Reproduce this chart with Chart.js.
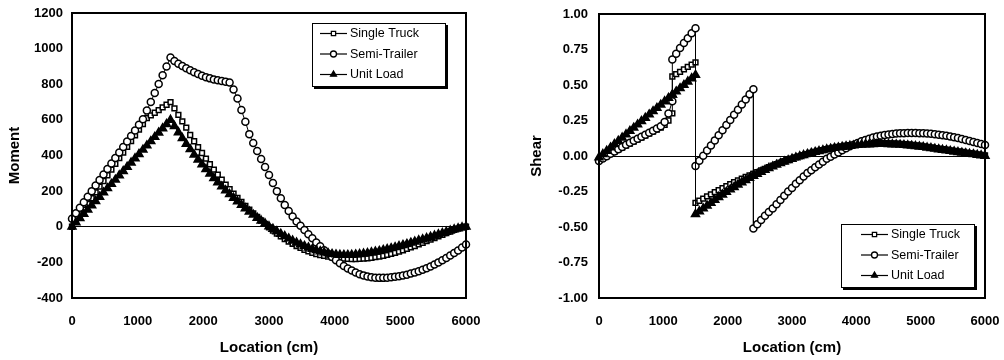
<!DOCTYPE html>
<html>
<head>
<meta charset="utf-8">
<script src="https://cdn.jsdelivr.net/npm/chart.js@4.4.1/dist/chart.umd.min.js"></script>
<style>
  html, body { margin: 0; padding: 0; background: #fff; }
  #wrap { position: relative; width: 1004px; height: 360px; }
  .box { position: absolute; top: 0; height: 360px; }
  #momentBox { left: 0; width: 490px; }
  #shearBox { left: 520px; width: 484px; }
</style>
</head>
<body>
<div id="wrap">
  <div class="box" id="momentBox"><canvas id="momentChart" width="490" height="360"></canvas></div>
  <div class="box" id="shearBox"><canvas id="shearChart" width="484" height="360"></canvas></div>
</div>
<script>
// series names (legend order)
const seriesNames = ["Single Truck", "Semi-Trailer", "Unit Load"];

// tick labels
const locTicks = [0, 1000, 2000, 3000, 4000, 5000, 6000];
const momentTicks = [-400, -200, 0, 200, 400, 600, 800, 1000, 1200];
const shearTicks = [-1, -0.75, -0.5, -0.25, 0, 0.25, 0.5, 0.75, 1];

// location along the beam (cm), moment chart
const loc = [
  0, 60, 120, 180, 240, 300, 360, 420, 480, 540,
  600, 660, 720, 780, 840, 900, 960, 1020, 1080, 1140,
  1200, 1260, 1320, 1380, 1440, 1500, 1560, 1620, 1680, 1740,
  1800, 1860, 1920, 1980, 2040, 2100, 2160, 2220, 2280, 2340,
  2400, 2460, 2520, 2580, 2640, 2700, 2760, 2820, 2880, 2940,
  3000, 3060, 3120, 3180, 3240, 3300, 3360, 3420, 3480, 3540,
  3600, 3660, 3720, 3780, 3840, 3900, 3960, 4020, 4080, 4140,
  4200, 4260, 4320, 4380, 4440, 4500, 4560, 4620, 4680, 4740,
  4800, 4860, 4920, 4980, 5040, 5100, 5160, 5220, 5280, 5340,
  5400, 5460, 5520, 5580, 5640, 5700, 5760, 5820, 5880, 5940,
  6000
];

const momentSingle = [
  0, 32, 64, 96, 128, 160, 193, 225, 257, 289,
  321, 353, 385, 417, 449, 481, 513, 545, 577, 610,
  625, 640, 655, 670, 685, 700, 665, 628, 592, 556,
  515, 480, 447, 414, 382, 351, 321, 292, 264, 237,
  211, 186, 162, 139, 117, 96, 75, 55, 35, 16,
  -3, -21, -38, -54, -69, -83, -96, -108, -119, -129,
  -138, -146, -153, -159, -164, -168, -172, -175, -177, -179,
  -180, -181, -181, -180, -179, -177, -174, -171, -167, -163,
  -158, -152, -146, -139, -132, -124, -116, -108, -99, -90,
  -81, -72, -63, -54, -45, -36, -27, -18, -10, -4,
  0
];

const momentSemi = [
  45, 76, 107, 138, 169, 200, 231, 262, 293, 324,
  355, 386, 417, 448, 479, 510, 541, 572, 603, 652,
  701, 751, 801, 851, 900, 950, 930, 915, 902, 890,
  878, 867, 857, 848, 840, 833, 827, 822, 818, 814,
  810, 770, 720, 655, 590, 520, 470, 425, 380, 335,
  290, 245, 200, 160, 122, 88, 58, 30, 5, -18,
  -42, -65, -88, -110, -132, -152, -170, -188, -205, -220,
  -234, -246, -257, -266, -273, -279, -283, -286, -287, -287,
  -286, -284, -281, -278, -274, -269, -263, -257, -250, -242,
  -233, -223, -212, -200, -188, -175, -162, -148, -133, -117,
  -100
];

const momentUnit = [
  0, 24, 48, 72, 96, 120, 144, 168, 192, 216,
  240, 264, 288, 312, 336, 360, 384, 408, 432, 456,
  480, 504, 528, 552, 576, 600, 565, 530, 497, 465,
  435, 405, 377, 350, 323, 298, 273, 249, 226, 204,
  183, 162, 142, 122, 103, 85, 67, 50, 34, 18,
  2, -12, -26, -40, -53, -66, -78, -89, -99, -108,
  -117, -125, -132, -138, -144, -149, -153, -156, -158, -159,
  -159, -158, -156, -154, -151, -148, -144, -140, -136, -131,
  -126, -121, -115, -109, -103, -97, -90, -84, -77, -71,
  -64, -57, -50, -43, -36, -29, -22, -15, -9, -4,
  0
];

// location for shear: repeated x where the shear jumps (1140, 1500, 2400)
const shearLoc = [
  0, 60, 120, 180, 240, 300, 360, 420, 480, 540,
  600, 660, 720, 780, 840, 900, 960, 1020, 1080, 1140,
  1140, 1200, 1260, 1320, 1380, 1440, 1500,
  1500, 1560, 1620, 1680, 1740, 1800, 1860, 1920, 1980, 2040,
  2100, 2160, 2220, 2280, 2340, 2400,
  2400, 2460, 2520, 2580, 2640, 2700, 2760, 2820, 2880, 2940,
  3000, 3060, 3120, 3180, 3240, 3300, 3360, 3420, 3480, 3540,
  3600, 3660, 3720, 3780, 3840, 3900, 3960, 4020, 4080, 4140,
  4200, 4260, 4320, 4380, 4440, 4500, 4560, 4620, 4680, 4740,
  4800, 4860, 4920, 4980, 5040, 5100, 5160, 5220, 5280, 5340,
  5400, 5460, 5520, 5580, 5640, 5700, 5760, 5820, 5880, 5940,
  6000
];

const shearSingle = [
  -0.03, -0.015, 0.0, 0.015, 0.03, 0.045, 0.06, 0.074, 0.088, 0.102,
  0.116, 0.13, 0.144, 0.158, 0.172, 0.186, 0.2, 0.22, 0.25, 0.30,
  0.56, 0.577, 0.593, 0.61, 0.627, 0.643, 0.66,
  -0.33, -0.315, -0.30, -0.285, -0.27, -0.255, -0.24, -0.226, -0.212, -0.198,
  -0.185, -0.172, -0.16, -0.148, -0.137, -0.126,
  -0.126, -0.114, -0.102, -0.09, -0.079, -0.068, -0.057, -0.047, -0.037, -0.028,
  -0.019, -0.01, -0.002, 0.006, 0.013, 0.022, 0.029, 0.036, 0.042, 0.048,
  0.054, 0.059, 0.064, 0.068, 0.072, 0.076, 0.079, 0.082, 0.084, 0.086,
  0.088, 0.089, 0.09, 0.09, 0.09, 0.089, 0.088, 0.087, 0.085, 0.083,
  0.081, 0.078, 0.075, 0.072, 0.068, 0.064, 0.06, 0.056, 0.052, 0.048,
  0.044, 0.04, 0.036, 0.032, 0.028, 0.024, 0.02, 0.016, 0.012, 0.008,
  0.005
];

const shearSemi = [
  -0.035, -0.018, -0.001, 0.016, 0.032, 0.048, 0.064, 0.079, 0.094, 0.108,
  0.122, 0.136, 0.15, 0.164, 0.178, 0.193, 0.21, 0.24, 0.30, 0.385,
  0.68, 0.72, 0.76, 0.795, 0.83, 0.865, 0.90,
  -0.07, -0.034, 0.002, 0.038, 0.074, 0.11, 0.146, 0.182, 0.218, 0.254,
  0.29, 0.326, 0.362, 0.398, 0.434, 0.47,
  -0.51, -0.48, -0.45, -0.42, -0.395, -0.37, -0.34, -0.31, -0.28, -0.25,
  -0.225, -0.195, -0.17, -0.145, -0.12, -0.10, -0.08, -0.06, -0.04, -0.02,
  -0.005, 0.01, 0.025, 0.04, 0.055, 0.068, 0.08, 0.092, 0.103, 0.113,
  0.122, 0.13, 0.137, 0.143, 0.148, 0.152, 0.155, 0.158, 0.16, 0.161,
  0.162, 0.162, 0.162, 0.161, 0.16, 0.158, 0.156, 0.153, 0.15, 0.146,
  0.142, 0.137, 0.132, 0.126, 0.12, 0.113, 0.106, 0.099, 0.092, 0.085,
  0.078
];

const shearUnit = [
  -0.01, 0.013, 0.036, 0.06, 0.083, 0.106, 0.129, 0.152, 0.176, 0.199,
  0.222, 0.245, 0.268, 0.292, 0.315, 0.338, 0.361, 0.384, 0.408, 0.431,
  0.431, 0.454, 0.477, 0.50, 0.524, 0.547, 0.57,
  -0.41, -0.39, -0.37, -0.35, -0.33, -0.31, -0.29, -0.272, -0.254, -0.236,
  -0.219, -0.202, -0.186, -0.17, -0.155, -0.14,
  -0.14, -0.126, -0.112, -0.099, -0.086, -0.074, -0.062, -0.051, -0.04, -0.03,
  -0.02, -0.011, -0.002, 0.006, 0.014, 0.021, 0.028, 0.034, 0.04, 0.046,
  0.051, 0.056, 0.06, 0.064, 0.068, 0.071, 0.074, 0.077, 0.079, 0.081,
  0.082, 0.083, 0.084, 0.084, 0.084, 0.083, 0.082, 0.081, 0.079, 0.077,
  0.075, 0.072, 0.069, 0.066, 0.063, 0.059, 0.055, 0.051, 0.047, 0.043,
  0.039, 0.035, 0.031, 0.027, 0.023, 0.019, 0.015, 0.012, 0.008, 0.004,
  0.0
];

// =======================
// STYLE
// =======================
const FONT = "'Liberation Sans', Arial, sans-serif";
const markers = [
  { pointStyle: "rect", radius: 3.4, bg: "#fff", order: 2, legendR: 3 },
  { pointStyle: "circle", radius: 3.5, bg: "#fff", order: 1, legendR: 3 },
  { pointStyle: "triangle", radius: 4.6, bg: "#000", order: 0, legendR: 3.4 }
];

function makeDatasets(xs, seriesList) {
  return seriesList.map((vals, i) => ({
    label: seriesNames[i],
    data: xs.map((x, j) => ({ x, y: vals[j] })),
    showLine: true,
    borderColor: "#000",
    borderWidth: 1,
    pointStyle: markers[i].pointStyle,
    pointRadius: markers[i].radius,
    pointBackgroundColor: markers[i].bg,
    pointBorderColor: "#000",
    pointBorderWidth: 1.5,
    order: markers[i].order,
    clip: false
  }));
}

// frame round the plot area
const framePlugin = {
  id: "frame",
  afterDatasetsDraw(chart) {
    const { ctx, chartArea: a } = chart;
    ctx.save();
    ctx.strokeStyle = "#000";
    ctx.lineWidth = 2;
    ctx.strokeRect(a.left, a.top, a.right - a.left, a.bottom - a.top);
    ctx.restore();
  }
};

// legend box drawn inside the plot, Excel style
const boxLegend = {
  id: "boxLegend",
  afterDraw(chart, args, opts) {
    const { ctx, chartArea: a } = chart;
    const w = 134, h = 64;
    const x = a.right - opts.right - w;
    const y = opts.top != null ? a.top + opts.top : a.bottom - opts.bottom - h;
    ctx.save();
    ctx.fillStyle = "#000";
    ctx.fillRect(x + 2, y + 2, w, h);
    ctx.fillStyle = "#fff";
    ctx.fillRect(x, y, w, h);
    ctx.strokeStyle = "#000";
    ctx.lineWidth = 1;
    ctx.strokeRect(x + 0.5, y + 0.5, w - 1, h - 1);

    ctx.font = "12.5px " + FONT;
    ctx.textBaseline = "middle";
    ctx.textAlign = "left";
    chart.data.datasets.forEach((ds, i) => {
      const ry = y + 10.5 + i * 20.5;
      const lx = x + opts.inset;
      ctx.beginPath();
      ctx.moveTo(lx, ry);
      ctx.lineTo(lx + 27, ry);
      ctx.lineWidth = 1.2;
      ctx.strokeStyle = "#000";
      ctx.stroke();
      ctx.fillStyle = markers[i].bg;
      ctx.strokeStyle = "#000";
      ctx.lineWidth = 1.3;
      Chart.helpers.drawPoint(ctx, {
        pointStyle: markers[i].pointStyle,
        radius: markers[i].legendR,
        rotation: 0,
        borderWidth: 1.3
      }, lx + 13.5, ry);
      ctx.fillStyle = "#000";
      ctx.fillText(ds.label, lx + 30, ry + 0.5);
    });
    ctx.restore();
  }
};

function makeChart(id, opts) {
  return new Chart(document.getElementById(id), {
    type: "scatter",
    data: { datasets: opts.datasets },
    plugins: [framePlugin, boxLegend],
    options: {
      responsive: false,
      animation: false,
      layout: { padding: { top: opts.top, right: opts.right, left: 0, bottom: 0 } },
      plugins: {
        legend: { display: false },
        tooltip: { enabled: false },
        boxLegend: opts.legend
      },
      scales: {
        x: {
          type: "linear",
          min: 0,
          max: 6000,
          afterBuildTicks: s => { s.ticks = locTicks.map(v => ({ value: v })); },
          afterFit: s => { s.height = 62; s.paddingLeft = 0; s.paddingRight = 0; },
          grid: { display: false, drawTicks: false },
          border: { display: false },
          ticks: {
            color: "#000",
            padding: 16,
            maxRotation: 0,
            font: { family: FONT, size: 13, weight: "bold" },
            callback: v => String(v)
          },
          title: {
            display: true,
            text: "Location (cm)",
            color: "#000",
            font: { family: FONT, size: 15, weight: "bold" },
            padding: { top: 0, bottom: 3 }
          }
        },
        y: {
          type: "linear",
          min: opts.yTicks[0],
          max: opts.yTicks[opts.yTicks.length - 1],
          afterBuildTicks: s => { s.ticks = opts.yTicks.map(v => ({ value: v })); },
          afterFit: s => { s.width = opts.yWidth; s.paddingTop = 0; s.paddingBottom = 0; },
          grid: {
            drawTicks: false,
            lineWidth: 1,
            color: c => (c.tick && c.tick.value === 0 ? "#000" : "rgba(0,0,0,0)")
          },
          border: { display: false },
          ticks: {
            color: "#000",
            padding: opts.yPad,
            font: { family: FONT, size: 13, weight: "bold" },
            callback: opts.yFmt
          },
          title: {
            display: true,
            text: opts.yTitle,
            color: "#000",
            font: { family: FONT, size: 15, weight: "bold" },
            padding: { top: opts.titlePad, bottom: 0 }
          }
        }
      }
    }
  });
}

makeChart("momentChart", {
  datasets: makeDatasets(loc, [momentSingle, momentSemi, momentUnit]),
  top: 13, right: 24, yWidth: 72, yPad: 9, titlePad: 6,
  yTicks: momentTicks,
  yFmt: v => String(v),
  yTitle: "Moment",
  legend: { right: 20, top: 10, inset: 8 }
});

makeChart("shearChart", {
  datasets: makeDatasets(shearLoc, [shearSingle, shearSemi, shearUnit]),
  top: 14, right: 19, yWidth: 79, yPad: 11, titlePad: 8,
  yTicks: shearTicks,
  yFmt: v => Number(v).toFixed(2),
  yTitle: "Shear",
  legend: { right: 10, bottom: 10, inset: 20 }
});
</script>
</body>
</html>
